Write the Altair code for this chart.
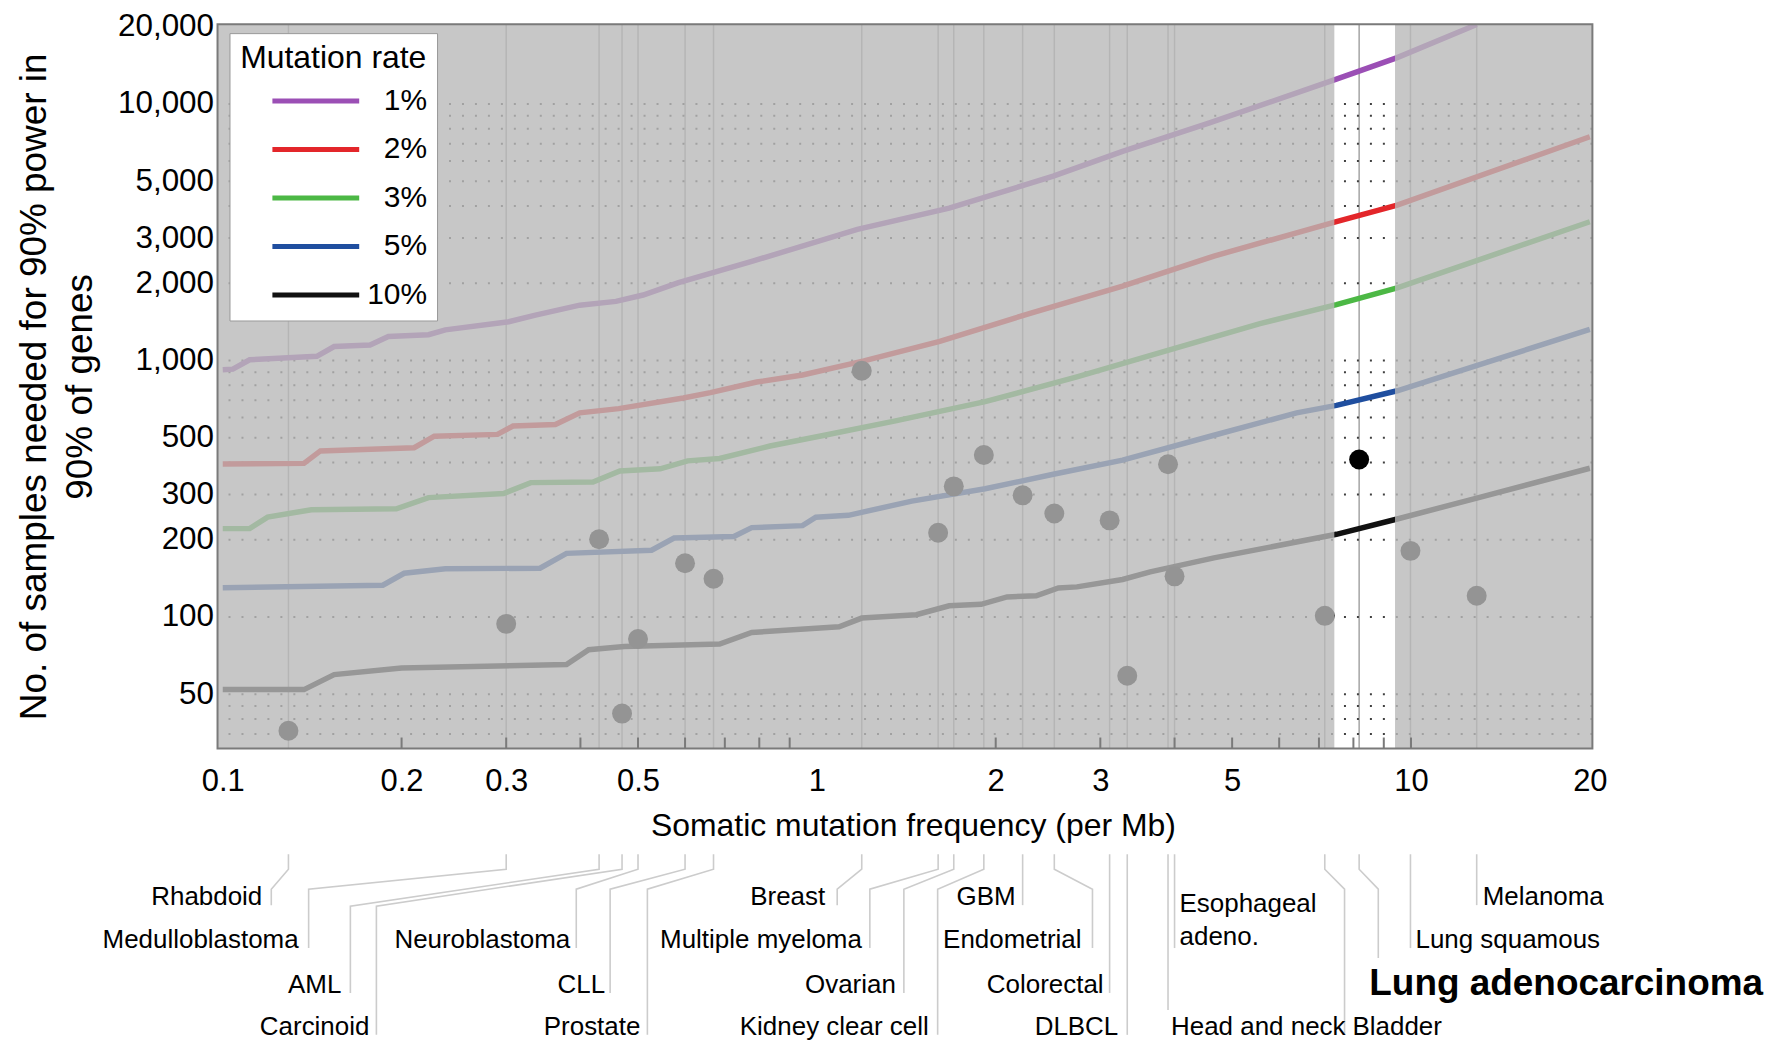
import math
import altair as alt
import pandas as pd

FONT = "Liberation Sans"
W, H = 1378, 726
X_DOMAIN = [0.098, 20.2]
Y_DOMAIN = [30.7, 20480]

# ---------------- power curves (samples needed vs mutation frequency) ----------------
rates = ["1%", "2%", "3%", "5%", "10%"]
rate_colors = ["#9b4fb5", "#e3262a", "#4cb845", "#1f4e9f", "#111111"]

freq_1 = [0.1, 0.104, 0.111, 0.144, 0.154, 0.177, 0.19, 0.222, 0.237, 0.303, 0.336, 0.399,
          0.459, 0.51, 0.585, 0.777, 1.17, 1.67, 2.5, 3.27, 4.58, 7.49, 9.48, 12.9]
n_1 = [921, 925, 1006, 1038, 1133, 1150, 1240, 1260, 1316, 1416, 1503, 1643,
       1700, 1800, 2012, 2434, 3243, 3926, 5231, 6540, 8433, 12500, 15160, 20400]

freq_2 = [0.1, 0.137, 0.146, 0.21, 0.227, 0.29, 0.308, 0.363, 0.399, 0.464, 0.596, 0.662,
          0.792, 0.946, 1.2, 1.61, 2.3, 3.27, 4.66, 7.49, 9.48, 20]
n_2 = [395, 397, 444, 457, 507, 515, 555, 563, 625, 649, 714, 749,
       824, 878, 997, 1188, 1534, 1948, 2553, 3480, 4035, 7450]

freq_3 = [0.1, 0.111, 0.119, 0.141, 0.196, 0.222, 0.297, 0.33, 0.42, 0.466, 0.545, 0.606,
          0.686, 0.834, 1.03, 1.35, 1.92, 2.74, 3.91, 5.57, 7.49, 9.48, 20]
n_3 = [221, 221, 245, 262, 264, 292, 303, 334, 336, 371, 378, 406,
       415, 464, 511, 580, 691, 863, 1097, 1393, 1650, 1918, 3475]

freq_5 = [0.1, 0.186, 0.202, 0.237, 0.342, 0.379, 0.527, 0.575, 0.725, 0.777, 0.946, 0.996,
          1.13, 1.445, 1.92, 2.5, 3.27, 4.66, 6.42, 7.49, 9.48, 20]
n_5 = [130, 133, 148, 154, 155, 177, 182, 203, 206, 223, 227, 245,
       249, 283, 316, 360, 409, 511, 625, 668, 762, 1321]

freq_10 = [0.1, 0.137, 0.154, 0.2, 0.379, 0.413, 0.474, 0.686, 0.777, 1.09, 1.19, 1.47,
           1.67, 1.89, 2.09, 2.34, 2.55, 2.74, 3.27, 3.64, 4.66, 7.49, 9.48, 13.0, 20]
n_10 = [52.1, 52.1, 59.6, 63.2, 65.2, 74.5, 76.7, 78.4, 87, 91.5, 99, 102,
        110.6, 112, 119.7, 121, 129.7, 131, 140, 149.8, 170, 210, 241, 292, 380]

curve_freqs = [freq_1, freq_2, freq_3, freq_5, freq_10]
curve_ns = [n_1, n_2, n_3, n_5, n_10]

# ---------------- tumour types ----------------
tumor_names = ["Rhabdoid", "Medulloblastoma", "AML", "Carcinoid", "Neuroblastoma", "CLL",
               "Prostate", "Breast", "Multiple myeloma", "Ovarian", "Kidney clear cell", "GBM",
               "Endometrial", "Colorectal", "DLBCL", "Head and neck", "Esophageal adeno.",
               "Bladder", "Lung adenocarcinoma", "Lung squamous", "Melanoma"]
tumor_freq = [0.129, 0.30, 0.43, 0.47, 0.50, 0.60, 0.67, 1.19, 1.60, 1.70, 1.91, 2.22,
              2.51, 3.11, 3.33, 3.90, 4.00, 7.16, 8.18, 9.98, 12.9]
tumor_samples = [36, 94, 201, 42, 82, 162, 141, 912, 213, 323, 428, 298,
                 253, 238, 59, 394, 144, 101, 411, 181, 121]

highlight_band = [7.43, 9.4]   # lung adenocarcinoma range (unshaded)

x_tick_values = [0.1, 0.2, 0.3, 0.5, 1, 2, 3, 5, 10, 20]
y_tick_values = [50, 100, 200, 300, 500, 1000, 2000, 3000, 5000, 10000, 20000]
minor_x_ticks = [0.2, 0.3, 0.4, 0.5, 0.6, 0.7, 0.8, 0.9, 2, 3, 4, 5, 6, 7, 8, 9, 10]
dotted_rows = [35, 40, 45, 50, 100, 200, 300, 400, 500, 600, 700, 800, 900,
               1000, 2000, 3000, 4000, 5000, 6000, 7000, 8000, 9000, 10000]

# ---------------- label layout (below the axis) ----------------
label_line_x = [0.1207, 0.1395, 0.164, 0.1814, 0.3936, 0.4488, 0.5185, 1.082, 1.228, 1.401,
                1.597, 2.22, 2.91, 3.11, 3.33, 3.90, 4.00, 7.73, 8.81, 9.98, 12.9]
label_row = [1, 2, 3, 4, 2, 3, 4, 1, 2, 3, 4, 1, 2, 3, 4, 4, 1, 4, 3, 2, 1]
label_side = ["r"] * 15 + ["l"] * 6
label_dx = [-9, -10, -9, -7, -6, -5, -7, -12, -8, -8, -9, -7, -11, -6, -9, 3, 5, 8, -9, 5, 6]
ROW_OFF = {1: 149, 2: 192, 3: 237, 4: 279}
CONN_END_OVERRIDE = {"Lung adenocarcinoma": 210, "Head and neck": 262, "Esophageal adeno.": 200}
LOW_BEND = {"AML", "Carcinoid"}

PX_PER_DEC = W / math.log10(X_DOMAIN[1] / X_DOMAIN[0])
PX_PER_DEC_Y = H / math.log10(Y_DOMAIN[1] / Y_DOMAIN[0])

# ---------------- tables ----------------
curves = pd.DataFrame([
    {"rate": r, "freq": f, "n": n}
    for r, fs, ns in zip(rates, curve_freqs, curve_ns) for f, n in zip(fs, ns)
])
tumors = pd.DataFrame({"name": tumor_names, "freq": tumor_freq, "samples": tumor_samples})
grid_df = pd.DataFrame({"n": dotted_rows})
shade_df = pd.DataFrame({
    "x0": [X_DOMAIN[0], highlight_band[1]], "x1": [highlight_band[0], X_DOMAIN[1]],
    "y0": [Y_DOMAIN[0]] * 2, "y1": [Y_DOMAIN[1]] * 2,
})
frame_df = pd.DataFrame({"x0": [X_DOMAIN[0]], "x1": [X_DOMAIN[1]],
                         "y0": [Y_DOMAIN[0]], "y1": [Y_DOMAIN[1]]})
ticks_df = pd.DataFrame({"t": minor_x_ticks, "y0": Y_DOMAIN[0],
                         "y1": Y_DOMAIN[0] * 10 ** (11 / PX_PER_DEC_Y)})

conn_rows, lab_rows = [], []
for i, name in enumerate(tumor_names):
    f0, f1 = tumor_freq[i], label_line_x[i]
    row = label_row[i]
    bend2 = 158 if name in LOW_BEND else 141
    end = CONN_END_OVERRIDE.get(name, ROW_OFF[row] + 8)
    for s, (f, off) in enumerate([(f0, 106), (f0, 121), (f1, bend2), (f1, end)]):
        conn_rows.append({"name": name, "seq": s, "f": f, "off": off})
    if name == "Lung adenocarcinoma":
        style, yoff = "bold", 236
    elif name == "Esophageal adeno.":
        style, yoff = "multi", 143
    else:
        style, yoff = "regular", ROW_OFF[row]
    lab_rows.append({
        "name": name.replace("Esophageal adeno.", "Esophageal\nadeno."),
        "tf": f1 * 10 ** (label_dx[i] / PX_PER_DEC),
        "off": yoff, "side": label_side[i], "style": style,
    })
conn_df = pd.DataFrame(conn_rows)
lab_df = pd.DataFrame(lab_rows)

# ---------------- scales & axes ----------------
x_scale = alt.Scale(type="log", domain=X_DOMAIN, nice=False)
y_scale = alt.Scale(type="log", domain=Y_DOMAIN, nice=False)

x_axis = alt.Axis(values=x_tick_values, format="~g", title="Somatic mutation frequency (per Mb)",
                  grid=False, ticks=False, domain=False, labelFont=FONT, labelFontSize=31,
                  labelColor="black", labelPadding=18, labelFlush=False, labelOverlap=False,
                  titleFont=FONT, titleFontSize=32, titleFontWeight="normal", titleColor="black",
                  titlePadding=14, titleX=W / 2 + 8)
y_axis = alt.Axis(values=y_tick_values, format=",", grid=False, ticks=False, domain=False,
                  title=["No. of samples needed for 90% power in", "90% of genes"],
                  labelFont=FONT, labelFontSize=31.5, labelColor="black", labelPadding=4,
                  labelOverlap=False, labelFlush=False, titleFont=FONT, titleFontSize=37,
                  titleFontWeight="normal", titleColor="black", titlePadding=18,
                  titleLineHeight=46)


def X(field):
    return alt.X(field, type="quantitative", scale=x_scale, axis=x_axis)


def Y(field):
    return alt.Y(field, type="quantitative", scale=y_scale, axis=y_axis)


legend = alt.Legend(
    orient="none", legendX=12, legendY=9, title="Mutation rate", titleFont=FONT,
    titleFontSize=32, titleFontWeight="normal", titleColor="black", titleAnchor="middle",
    titleBaseline="top", titleLimit=400, titlePadding=9, labelFont=FONT, labelFontSize=30,
    labelColor="black", labelAlign="right", labelOffset=94.5, symbolType="M-3,0L3,0",
    symbolSize=841, symbolStrokeWidth=5, symbolOffset=59.5, rowPadding=16.6, padding=10,
    fillColor="white", strokeColor="#9a9a9a", cornerRadius=0,
)

vrules = alt.Chart(tumors).mark_rule(color="#a4a4a4", strokeWidth=1.5).encode(x=X("freq"))
grid = alt.Chart(grid_df).mark_rule(color="#404040", strokeWidth=2,
                                    strokeDash=[2, 11]).encode(y=Y("n"))
lines = alt.Chart(curves).mark_line(strokeWidth=5.5, clip=True).encode(
    x=X("freq"), y=Y("n"),
    color=alt.Color("rate:N", scale=alt.Scale(domain=rates, range=rate_colors), legend=legend),
)
dots = alt.Chart(tumors).mark_circle(size=400, color="black", opacity=1).encode(
    x=X("freq"), y=Y("samples"))
shade = alt.Chart(shade_df).mark_rect(color="#b9b9b9", opacity=0.8).encode(
    x=X("x0"), x2="x1", y=Y("y0"), y2="y1")
ticks = alt.Chart(ticks_df).mark_rule(color="#7a7a7a", strokeWidth=2).encode(
    x=X("t"), y=Y("y0"), y2="y1")
frame = alt.Chart(frame_df).mark_rect(fillOpacity=0, stroke="#7a7a7a", strokeWidth=2).encode(
    x=X("x0"), x2="x1", y=Y("y0"), y2="y1")

main = alt.layer(vrules, grid, lines, dots, shade, ticks, frame)

ann_scale = alt.Scale(domain=[0, 300], range=[H, H + 300])
ann_y = alt.Y("off:Q", scale=ann_scale, axis=None)

connectors = alt.Chart(conn_df).mark_line(color="#cccccc", strokeWidth=1.6).encode(
    x=X("f"), y=ann_y, detail="name:N", order="seq:Q")
text_r = alt.Chart(lab_df).transform_filter(
    "datum.style == 'regular' && datum.side == 'r'").mark_text(
    font=FONT, fontSize=26, align="right", baseline="middle", color="black").encode(
    x=X("tf"), y=ann_y, text="name:N")
text_l = alt.Chart(lab_df).transform_filter(
    "datum.style == 'regular' && datum.side == 'l'").mark_text(
    font=FONT, fontSize=26, align="left", baseline="middle", color="black").encode(
    x=X("tf"), y=ann_y, text="name:N")
text_b = alt.Chart(lab_df).transform_filter("datum.style == 'bold'").mark_text(
    font=FONT, fontSize=37, fontWeight="bold", align="left", baseline="middle",
    color="black").encode(x=X("tf"), y=ann_y, text="name:N")
text_m = alt.Chart(lab_df).transform_filter("datum.style == 'multi'").mark_text(
    font=FONT, fontSize=26, align="left", baseline="top", lineBreak="\n", lineHeight=33,
    color="black").encode(x=X("tf"), y=ann_y, text="name:N")

annot = alt.layer(connectors, text_r, text_l, text_b, text_m)

chart = alt.layer(main, annot).resolve_scale(y="independent").properties(
    width=W, height=H,
    padding={"left": 210, "top": 15, "right": 175, "bottom": 300},
    autosize=alt.AutoSizeParams(type="none"),
    background="white",
).configure_view(stroke=None)

chart.save("out.html", embed_options={"renderer": "svg", "actions": False})
